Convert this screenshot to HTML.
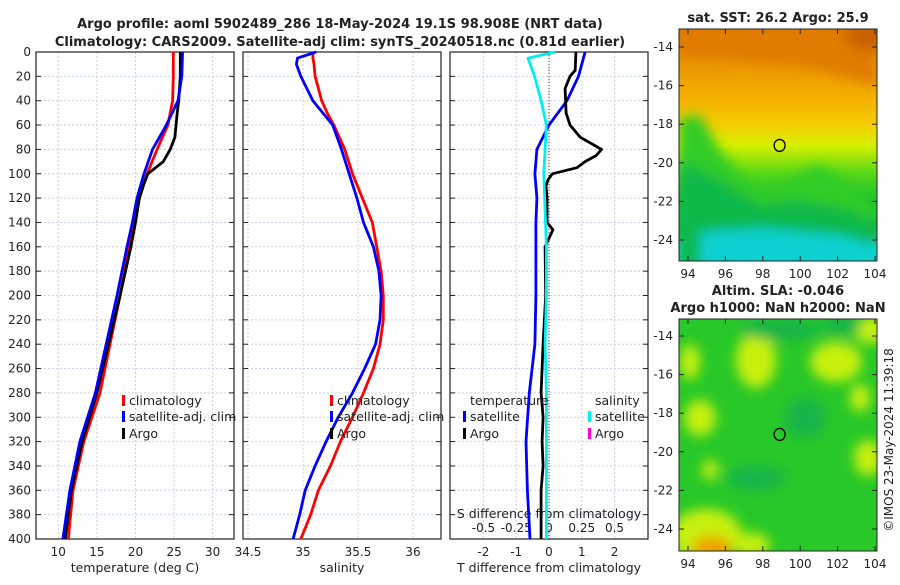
<!DOCTYPE html>
<html><head><meta charset="utf-8">
<style>
body{margin:0;background:#fff;width:900px;height:580px;overflow:hidden}
svg text{font-family:"DejaVu Sans","Liberation Sans",sans-serif;fill:#222}
</style></head>
<body>
<svg id="chart" width="900" height="580" viewBox="0 0 900 580" xmlns="http://www.w3.org/2000/svg">
<defs>
<linearGradient id="sstg" x1="0" y1="0" x2="0" y2="1">
<stop offset="0" stop-color="#d87000"/><stop offset="0.12" stop-color="#e89000"/>
<stop offset="0.3" stop-color="#f4b000"/><stop offset="0.42" stop-color="#f4d000"/>
<stop offset="0.5" stop-color="#d8f000"/>
<stop offset="0.62" stop-color="#5ad818"/><stop offset="0.75" stop-color="#10c030"/>
<stop offset="0.88" stop-color="#0cb850"/><stop offset="0.93" stop-color="#10d0c0"/>
<stop offset="1" stop-color="#10d8d0"/></linearGradient>
<filter id="blur"><feGaussianBlur stdDeviation="6"/></filter>
<clipPath id="m1c"><rect x="679" y="29" width="198" height="232"/></clipPath>
<clipPath id="m2c"><rect x="679" y="319" width="198" height="232"/></clipPath>
</defs>
<text x="340" y="28" text-anchor="middle" font-size="13" font-weight="bold">Argo profile: aoml 5902489_286 18-May-2024 19.1S 98.908E (NRT data)</text>
<text x="340" y="46" text-anchor="middle" font-size="13" font-weight="bold">Climatology: CARS2009. Satellite-adj clim: synTS_20240518.nc (0.81d earlier)</text>
<g id="maps"></g>
<g id="panels"></g>
<text transform="translate(893,440) rotate(-90)" font-size="12" text-anchor="middle">©IMOS 23-May-2024 11:39:18</text>
</svg>
<script>
// depth levels (m)
const depths=[0,20,40,60,80,100,120,140,160,200,240,280,320,360,400];
const tempClim=[24.9,24.9,24.8,24.2,22.8,21.5,20.5,19.8,19.2,18.0,16.7,15.4,13.3,11.9,11.3];
const tempSat=[26.1,26.0,25.5,24.0,22.2,21.1,20.2,19.6,18.9,17.6,16.2,14.8,12.8,11.5,10.6];
const argoDepths=[0,20,40,50,70,80,90,100,110,120,140,160,200,240,280,320,360,400];
const tempArgo=[25.8,25.8,25.6,25.4,25.1,24.5,23.6,21.6,21.0,20.5,20.0,19.4,18.0,16.5,15.0,13.1,11.7,10.9];
const salDepths=[0,5,10,20,40,50,60,80,100,120,140,160,180,200,220,240,260,280,300,320,340,360,380,400];
const salClim=[35.09,35.09,35.10,35.11,35.17,35.22,35.28,35.38,35.45,35.54,35.63,35.67,35.71,35.73,35.73,35.70,35.64,35.55,35.45,35.34,35.25,35.14,35.07,34.98];
const salSat=[35.12,34.95,34.94,34.98,35.09,35.18,35.27,35.35,35.42,35.49,35.55,35.64,35.69,35.71,35.70,35.66,35.56,35.45,35.32,35.21,35.11,35.02,34.97,34.91];
const dDepths=[0,20,40,60,80,100,120,140,160,200,240,280,320,360,400];
const tDiffSat=[1.1,0.9,0.55,0.0,-0.37,-0.43,-0.37,-0.4,-0.4,-0.4,-0.43,-0.6,-0.7,-0.66,-0.58];
const argoDiffDepths=[0,15,20,30,50,60,70,80,85,90,95,100,105,110,120,140,146,160,200,240,280,300,320,340,360,400];
const tDiffArgo=[0.82,0.8,0.64,0.49,0.52,0.64,0.95,1.6,1.44,1.1,0.85,0.1,-0.03,-0.09,-0.06,-0.06,0.12,-0.12,-0.1,-0.18,-0.24,-0.18,-0.21,-0.18,-0.24,-0.24];
const sDiffDepths=[0,5,20,40,60,80,100,160,200,240,280,320,400];
const sDiffSat=[0.05,-0.16,-0.11,-0.06,-0.02,-0.03,-0.04,-0.02,-0.02,-0.03,-0.02,-0.02,-0.02];
const depthTicks=[0,20,40,60,80,100,120,140,160,180,200,220,240,260,280,300,320,340,360,380,400];
const tempTicks=[10,15,20,25,30];
const salTicks=[34.5,35,35.5,36];
const tdTicks=[-2,-1,0,1,2];
const sdTicks=[-0.5,-0.25,0,0.25,0.5];
const sdTickLabels=["-0.5","-0.25","0","0.25","0.5"];
const lonTicks=[94,96,98,100,102,104];
const latTicks=[-14,-16,-18,-20,-22,-24];
const argoLon=98.9, argoLat=-19.1;

const NS="http://www.w3.org/2000/svg";
const panels=document.getElementById('panels');
const maps=document.getElementById('maps');
function mk(tag,attrs,parent){const e=document.createElementNS(NS,tag);for(const k in attrs)e.setAttribute(k,attrs[k]);(parent||panels).appendChild(e);return e;}
const yD=d=>52+d*(539-52)/400;
const xT=t=>58.3+(t-10)*7.72;
const xS=s=>248+(s-34.5)*110;
const xTD=v=>549+v*32.8;
const xSD=v=>549+v*131;
const PANELS=[{x0:36,x1:234,name:'temperature-panel'},{x0:243,x1:441,name:'salinity-panel'},{x0:450,x1:648,name:'difference-panel'}];

function grid(p,xt,xf){
  for(const t of xt){const x=xf(t);mk('line',{x1:x,x2:x,y1:52,y2:539,stroke:'#d8c8e0','stroke-dasharray':'2,2','stroke-width':1});}
  for(const d of depthTicks){const y=yD(d);mk('line',{x1:p.x0,x2:p.x1,y1:y,y2:y,stroke:'#c8d0ec','stroke-dasharray':'2,2','stroke-width':1});
    mk('line',{x1:p.x0,x2:p.x0+5,y1:y,y2:y,stroke:'#222'});mk('line',{x1:p.x1-5,x2:p.x1,y1:y,y2:y,stroke:'#222'});}
  const r=mk('rect',{x:p.x0,y:52,width:p.x1-p.x0,height:487,fill:'none',stroke:'#222','stroke-width':1.2});
  
  
}
function line(ds,vs,xf,color,w,name){
  const pts=ds.map((d,i)=>xf(vs[i]).toFixed(1)+','+yD(d).toFixed(1)).join(' ');
  const e=mk('polyline',{points:pts,fill:'none',stroke:color,'stroke-width':w,'stroke-linejoin':'round'});
  
  
}
function txt(x,y,s,size,anchor,name){const e=mk('text',{x:x,y:y,'font-size':size,'text-anchor':anchor||'start'});e.textContent=s;
  
  return e;}

// panel 1
grid(PANELS[0],tempTicks,xT);
for(const d of depthTicks) txt(31,yD(d)+4,String(d),12,'end','y-tick-label');
for(const t of tempTicks) txt(xT(t),556,String(t),12,'middle','temp-tick-label');
txt(135,572,'temperature (deg C)',12.5,'middle','x-axis-title-temperature');
line(depths,tempClim,xT,'#f00',2.8,'temp-climatology-line');
line(argoDepths,tempArgo,xT,'#000',2.8,'temp-argo-line');
line(depths,tempSat,xT,'#00f',2.8,'temp-satellite-line');
// panel 2
grid(PANELS[1],salTicks,xS);
for(const s of salTicks) txt(xS(s),556,String(s),12,'middle','sal-tick-label');
txt(342,572,'salinity',12.5,'middle','x-axis-title-salinity');
line(salDepths,salClim,xS,'#f00',2.8,'sal-climatology-line');
line(salDepths,salSat,xS,'#00f',2.8,'sal-satellite-line');
// panel 3
grid(PANELS[2],tdTicks,xTD);
mk('line',{x1:xTD(0),x2:xTD(0),y1:52,y2:539,stroke:'#333','stroke-dasharray':'1,2'});
for(const t of tdTicks) txt(xTD(t),556,String(t),12,'middle','tdiff-tick-label');
txt(549,572,'T difference from climatology',12.5,'middle','x-axis-title-tdiff');
sdTicks.forEach((s,i)=>txt(xSD(s),532,sdTickLabels[i],12,'middle','sdiff-tick-label'));
txt(549,518,'S difference from climatology',12.5,'middle','x-axis-title-sdiff');
line(dDepths,tDiffSat,xTD,'#00f',2.8,'tdiff-satellite-line');
line(argoDiffDepths,tDiffArgo,xTD,'#000',2.8,'tdiff-argo-line');
line(sDiffDepths,sDiffSat,xSD,'#0ee',2.8,'sdiff-satellite-line');

// legends
function leg(x,y,color,label,name){const g=mk('g',{});
  mk('rect',{x:x,y:y-10,width:3,height:11,fill:color},g);
  const t=mk('text',{x:x+7,y:y,'font-size':12.5},g);t.textContent=label;}
leg(122,405,'#f00','climatology','legend-climatology');
leg(122,421,'#00f','satellite-adj. clim','legend-satellite-adj');
leg(122,438,'#000','Argo','legend-argo');
leg(330,405,'#f00','climatology','legend-sal-climatology');
leg(330,421,'#00f','satellite-adj. clim','legend-sal-satellite-adj');
leg(330,438,'#000','Argo','legend-sal-argo');
txt(470,405,'temperature',12.5,'start','legend-temperature-header');
leg(463,421,'#00f','satellite','legend-tdiff-satellite');
leg(463,438,'#000','Argo','legend-tdiff-argo');
txt(595,405,'salinity',12.5,'start','legend-salinity-header');
leg(588,421,'#0ee','satellite','legend-sdiff-satellite');
leg(588,438,'#f0c','Argo','legend-sdiff-argo');

// maps
const xL=l=>688+(l-94)*18.7;
function mapAxes(top,latTop,name){
  const yl=l=>latTop+(-14-l)*19.3;
  for(const l of latTicks){const y=yl(l);mk('line',{x1:679,x2:684,y1:y,y2:y,stroke:'#222'},maps);mk('line',{x1:872,x2:877,y1:y,y2:y,stroke:'#222'},maps);
    const t=mk('text',{x:673,y:y+4,'font-size':12,'text-anchor':'end'},maps);t.textContent=String(l);}
  for(const l of lonTicks){const x=xL(l);mk('line',{x1:x,x2:x,y1:top,y2:top+5,stroke:'#222'},maps);mk('line',{x1:x,x2:x,y1:top+227,y2:top+232,stroke:'#222'},maps);
    const t=mk('text',{x:x,y:top+249,'font-size':12,'text-anchor':'middle'},maps);t.textContent=String(l);}
  const r=mk('rect',{x:679,y:top,width:198,height:232,fill:'none',stroke:'#222'},maps);
  
  
  const c=mk('ellipse',{cx:xL(argoLon),cy:yl(argoLat),rx:5.5,ry:6,fill:'none',stroke:'#000','stroke-width':1.3},maps);
  
  
}
// SST map
const g1=mk('g',{'clip-path':'url(#m1c)'},maps);


mk('rect',{x:679,y:29,width:198,height:232,fill:'url(#sstg)'},g1);
const gb=mk('g',{filter:'url(#blur)'},g1);
mk('path',{d:'M679,118 L700,115 L720,150 L740,175 L760,190 L780,185 L800,175 L820,165 L850,185 L877,205 L877,300 L679,300 Z',fill:'#30cc28'},gb);
mk('path',{d:'M679,160 L720,180 L760,205 L800,200 L850,210 L877,222 L877,300 L679,300Z',fill:'#0cb84a'},gb);
mk('path',{d:'M700,232 L760,228 L840,235 L877,245 L877,270 L700,270Z',fill:'#10d0d0'},gb);
mk('path',{d:'M679,20 L877,20 L877,85 L800,65 L679,55Z',fill:'#e07c00'},gb);
mk('ellipse',{cx:870,cy:35,rx:25,ry:15,fill:'#c86000'},gb);
mapAxes(29,47,'sst-map');
const t1=mk('text',{x:778,y:22,'font-size':13,'font-weight':'bold','text-anchor':'middle'},maps);t1.textContent='sat. SST: 26.2 Argo: 25.9';
// SLA map
const g2=mk('g',{'clip-path':'url(#m2c)'},maps);


mk('rect',{x:679,y:319,width:198,height:232,fill:'#28c828'},g2);
const gb2=mk('g',{filter:'url(#blur)'},g2);
[[756,360,20,28],[836,362,26,20],[690,362,10,18],[870,330,16,14],[700,418,16,18],[868,458,14,18],[860,398,10,14],[706,535,36,26],[752,545,18,12],[710,470,8,10]].forEach(b=>mk('ellipse',{cx:b[0],cy:b[1],rx:b[2],ry:b[3],fill:'#c8f010'},gb2));
mk('ellipse',{cx:712,cy:548,rx:20,ry:12,fill:'#f0a000'},gb2);
[[756,478,30,12],[780,330,40,10],[805,418,20,20],[842,325,20,10]].forEach(b=>mk('ellipse',{cx:b[0],cy:b[1],rx:b[2],ry:b[3],fill:'#14b44c'},gb2));
mapAxes(319,336,'sla-map');
const t2=mk('text',{x:778,y:295,'font-size':13,'font-weight':'bold','text-anchor':'middle'},maps);t2.textContent='Altim. SLA: -0.046';
const t3=mk('text',{x:778,y:312,'font-size':13,'font-weight':'bold','text-anchor':'middle'},maps);t3.textContent='Argo h1000: NaN h2000: NaN';
</script>
</body></html>
